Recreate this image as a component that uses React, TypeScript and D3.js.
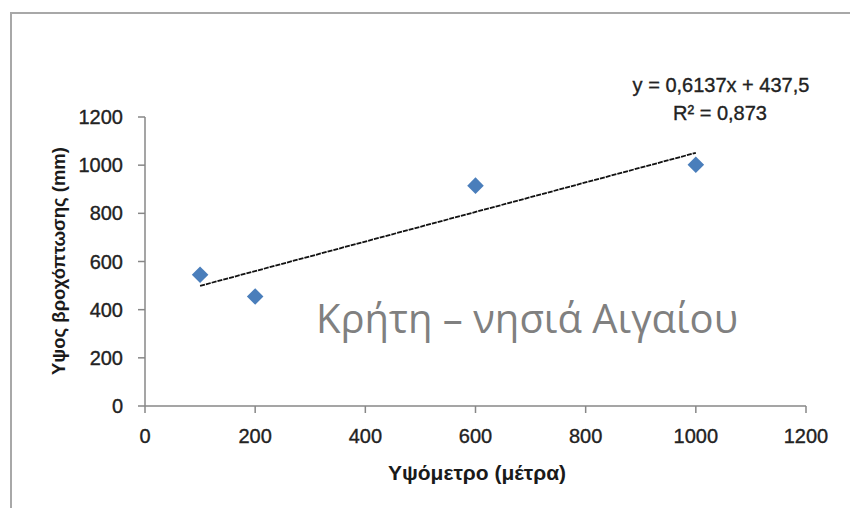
import React from "react";
import * as d3 from "d3";

const altitude = [100, 200, 600, 1000];
const rainfall = [545, 455, 915, 1002];
const xTicks = [0, 200, 400, 600, 800, 1000, 1200];
const yTicks = [0, 200, 400, 600, 800, 1000, 1200];
const trendSlope = 0.6137;
const trendIntercept = 437.5;
const trendRange = [100, 1000];
const equationText = "y = 0,6137x + 437,5";
const r2Text = "R² = 0,873";
const xTitle = "Υψόμετρο (μέτρα)";
const yTitle = "Υψος βροχόπτωσης (mm)";
const overlayText = "Κρήτη – νησιά Αιγαίου";

const W = 850;
const H = 508;
const M = { left: 145, right: 806, top: 117, bottom: 406 };

export default function App() {
  const x = d3.scaleLinear().domain([0, 1200]).range([M.left, M.right]);
  const y = d3.scaleLinear().domain([0, 1200]).range([M.bottom, M.top]);
  const axisColor = "#878787";
  const font = "'Liberation Sans', Arial, sans-serif";
  const textColor = "#222";
  const line = d3
    .line<number>()
    .x((d) => x(d))
    .y((d) => y(trendSlope * d + trendIntercept));
  const diamond = d3.symbol().type(d3.symbolDiamond2).size(175)();

  return (
    <svg
      width={W}
      height={H}
      style={{ position: "absolute", left: 0, top: 0, background: "#fff" }}
    >
      <rect x={0} y={0} width={W} height={H} fill="#fff" />
      <rect x={11} y={13} width={W + 50} height={H + 50} fill="none" stroke="#a8a8a8" strokeWidth={2} />

      {/* axes */}
      <line x1={M.left} x2={M.left} y1={M.top} y2={M.bottom} stroke={axisColor} strokeWidth={1.5} />
      <line x1={M.left} x2={M.right} y1={M.bottom} y2={M.bottom} stroke={axisColor} strokeWidth={1.5} />
      {yTicks.map((t) => (
        <g key={"y" + t}>
          <line x1={M.left - 7} x2={M.left} y1={y(t)} y2={y(t)} stroke={axisColor} strokeWidth={1.5} />
          <text
            x={M.left - 22}
            y={y(t)}
            dy="0.35em"
            textAnchor="end"
            fontFamily={font}
            fontSize={20}
            fill={textColor}
            stroke={textColor}
            strokeWidth={0.35}
          >
            {t}
          </text>
        </g>
      ))}
      {xTicks.map((t) => (
        <g key={"x" + t}>
          <line x1={x(t)} x2={x(t)} y1={M.bottom} y2={M.bottom + 7} stroke={axisColor} strokeWidth={1.5} />
          <text
            x={x(t)}
            y={443}
            textAnchor="middle"
            fontFamily={font}
            fontSize={20}
            fill={textColor}
            stroke={textColor}
            strokeWidth={0.35}
          >
            {t}
          </text>
        </g>
      ))}

      {/* axis titles */}
      <text
        x={477}
        y={480}
        textAnchor="middle"
        fontFamily={font}
        fontWeight="bold"
        fontSize={21}
        fill="#1a1a1a"
      >
        {xTitle}
      </text>
      <text
        transform={`translate(65, 261) rotate(-90)`}
        textAnchor="middle"
        fontFamily={font}
        fontWeight="bold"
        fontSize={18.5}
        fill="#1a1a1a"
      >
        {yTitle}
      </text>

      {/* trend line */}
      <path
        d={line(trendRange) || ""}
        fill="none"
        stroke="#111"
        strokeWidth={1.8}
        strokeDasharray="5 1"
      />

      {/* points */}
      {altitude.map((a, i) => (
        <path
          key={"p" + i}
          d={diamond || ""}
          transform={`translate(${x(a)}, ${y(rainfall[i])})`}
          fill="#4a7ebb"
        />
      ))}

      {/* equation */}
      <text
        x={721}
        y={92}
        textAnchor="middle"
        fontFamily={font}
        fontSize={20}
        fill={textColor}
        stroke={textColor}
        strokeWidth={0.35}
      >
        {equationText}
      </text>
      <text
        x={720}
        y={120}
        textAnchor="middle"
        fontFamily={font}
        fontSize={20}
        fill={textColor}
        stroke={textColor}
        strokeWidth={0.35}
      >
        {r2Text}
      </text>

      {/* overlay title */}
      <text
        x={527}
        y={333}
        textAnchor="middle"
        fontFamily="'Open Sans', 'Noto Sans', sans-serif"
        fontSize={40}
        fill="#808080"
      >
        {overlayText}
      </text>
    </svg>
  );
}
